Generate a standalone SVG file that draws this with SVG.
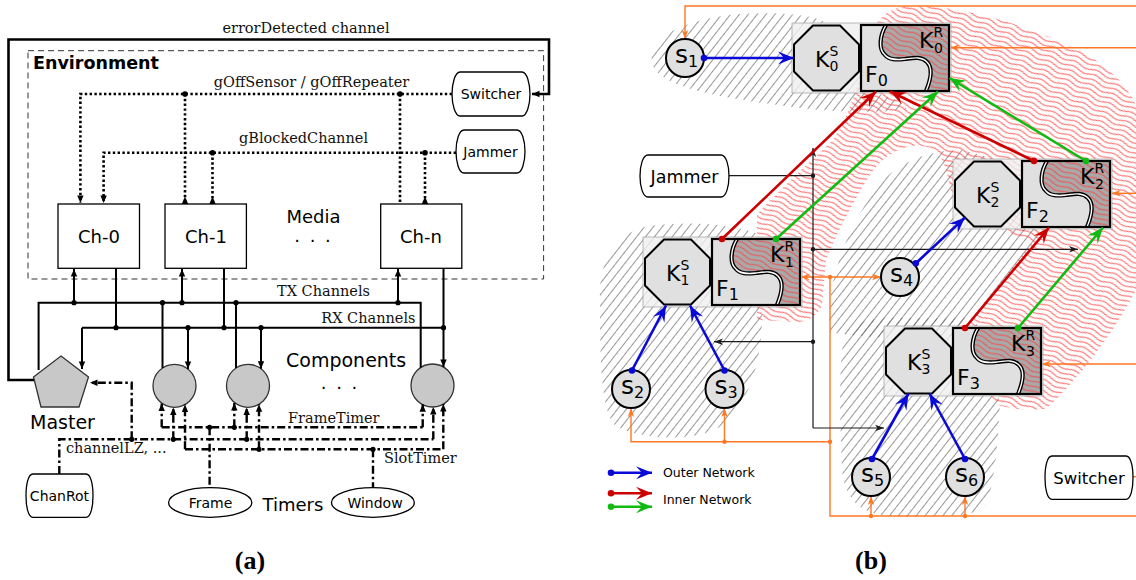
<svg xmlns="http://www.w3.org/2000/svg" width="1136" height="580" viewBox="0 0 1136 580">
<style>
  .sans{font-family:"DejaVu Sans","Liberation Sans",sans-serif;fill:#000}
  .lbl{font-family:"DejaVu Serif","Liberation Serif",serif;font-size:14.5px;fill:#111}
  .cap{font-family:"Liberation Serif","Times New Roman",serif;font-weight:bold;font-size:26px;text-anchor:middle}
  .thick{fill:none;stroke:#000;stroke-width:2.6}
  .bus{fill:none;stroke:#000;stroke-width:2}
  .dotl{fill:none;stroke:#000;stroke-width:2.6;stroke-dasharray:2.4 2.4}
  .dd{fill:none;stroke:#000;stroke-width:2.4;stroke-dasharray:8 3 2.5 3}
  .env{fill:none;stroke:#333;stroke-width:1;stroke-dasharray:6 4}
  .box{fill:#fff;stroke:#000;stroke-width:1.3}
  .comp{fill:#c8c8c8;stroke:#333;stroke-width:1.3}
  .mid{text-anchor:middle}
  .kbg{fill:#efefef;fill-opacity:.8;stroke:#a8a8a8;stroke-width:.8}
  .oct{fill:#e0e0e0;stroke:#000;stroke-width:2}
  .fl{fill:#e0e0e0;stroke:none}
  .fd{fill:#a9a9a9;stroke:none}
  .fdh{fill:url(#hatchRed);stroke:none}
  .wv1{fill:none;stroke:#000;stroke-width:4.2}
  .wv2{fill:none;stroke:#fff;stroke-width:1.4}
  .fb{fill:none;stroke:#000;stroke-width:2.2}
  .big{font-family:"DejaVu Sans","Liberation Sans",sans-serif;font-size:22px}
  .ss{font-size:14px}
  .sn{fill:#e0e0e0;stroke:#000;stroke-width:2}
  .st{font-family:"DejaVu Sans","Liberation Sans",sans-serif;font-size:25px}
  .sd{font-size:16px}
  .blue{fill:none;stroke:#0a0ad8;stroke-width:2.6}
  .red{fill:none;stroke:#cc0000;stroke-width:2.6}
  .green{fill:none;stroke:#11bb11;stroke-width:2.6}
  .org{fill:none;stroke:#ff7722;stroke-width:1.4}
  .blk{fill:none;stroke:#1a1a1a;stroke-width:1.2}
</style>
<defs>
  <marker id="ah" viewBox="-8 -4 9 8" markerWidth="9" markerHeight="8" refX="0" refY="0" orient="auto" markerUnits="userSpaceOnUse">
    <path d="M0,0 L-7.5,-3.2 L-7.5,3.2 Z" fill="#000"/>
  </marker>
  <marker id="ahk" viewBox="-10 -4 11 8" markerWidth="11" markerHeight="8" refX="0" refY="0" orient="auto" markerUnits="userSpaceOnUse">
    <path d="M0,0 L-9,-3.2 L-6.5,0 L-9,3.2 Z" fill="#1a1a1a"/>
  </marker>
  <marker id="aho" viewBox="-10 -4 11 8" markerWidth="11" markerHeight="8" refX="0" refY="0" orient="auto" markerUnits="userSpaceOnUse">
    <path d="M0,0 L-9,-3.2 L-6.5,0 L-9,3.2 Z" fill="#ff7722"/>
  </marker>
  <marker id="ahb" viewBox="-18 -8 19 16" markerWidth="19" markerHeight="16" refX="0" refY="0" orient="auto" markerUnits="userSpaceOnUse">
    <path d="M0,0 L-16,-6.5 L-10,0 L-16,6.5 Z" fill="#0a0ad8"/>
  </marker>
  <marker id="ahr" viewBox="-18 -8 19 16" markerWidth="19" markerHeight="16" refX="0" refY="0" orient="auto" markerUnits="userSpaceOnUse">
    <path d="M0,0 L-16,-6.5 L-10,0 L-16,6.5 Z" fill="#cc0000"/>
  </marker>
  <marker id="ahg" viewBox="-18 -8 19 16" markerWidth="19" markerHeight="16" refX="0" refY="0" orient="auto" markerUnits="userSpaceOnUse">
    <path d="M0,0 L-16,-6.5 L-10,0 L-16,6.5 Z" fill="#11bb11"/>
  </marker>
  <marker id="db" viewBox="-4 -4 8 8" markerWidth="8" markerHeight="8" refX="0" refY="0" markerUnits="userSpaceOnUse"><circle r="3.3" fill="#0a0ad8"/></marker>
  <marker id="dr" viewBox="-4 -4 8 8" markerWidth="8" markerHeight="8" refX="0" refY="0" markerUnits="userSpaceOnUse"><circle r="3.3" fill="#cc0000"/></marker>
  <marker id="dg" viewBox="-4 -4 8 8" markerWidth="8" markerHeight="8" refX="0" refY="0" markerUnits="userSpaceOnUse"><circle r="3.3" fill="#11bb11"/></marker>
  <pattern id="hatchGray" patternUnits="userSpaceOnUse" width="7" height="20" patternTransform="rotate(38)">
    <line x1="3.5" y1="0" x2="3.5" y2="20" stroke="#6a6a6a" stroke-width="0.7"/>
  </pattern>
  <pattern id="hatchRed" patternUnits="userSpaceOnUse" width="24" height="5" patternTransform="rotate(23)">
    <path d="M0,2.5 C6,0.7 6,0.7 12,2.5 C18,4.3 18,4.3 24,2.5" fill="none" stroke="#ff3d3d" stroke-width="0.9"/>
  </pattern>
  <path id="wave" d="M25,0 C19,10 17,24 24,30 C28,35 35,35 44,34 C52,33 60,31 66,37 C72,43 70,54 65,66"/>
  <path id="dark" d="M25,0 C19,10 17,24 24,30 C28,35 35,35 44,34 C52,33 60,31 66,37 C72,43 70,54 65,66 H88 V0 Z"/>
</defs>

<rect width="1136" height="580" fill="#fff"/>

<!-- ===== (a) system architecture ===== -->
<g id="a-environment">
  <rect class="env" x="28" y="50.7" width="515.6" height="228.3"/>
  <text x="33" y="69" class="sans" font-weight="bold" font-size="17.5">Environment</text>
  <text x="313.5" y="223" class="sans mid" font-size="18">Media</text>
  <text x="313.5" y="242" class="sans mid" font-size="18" letter-spacing="2">. . .</text>
</g>

<g id="a-switcher">
  <path class="box" d="M460,72 H522 C527,72 530,84 530,94 C530,104 527,116 522,116 H460 C455,116 452,104 452,94 C452,84 455,72 460,72 Z"/>
  <text x="491" y="99" class="sans mid" font-size="14">Switcher</text>
</g>
<g id="a-jammer">
  <path class="box" d="M464,130 H517 C522,130 525,141 525,151.5 C525,162 522,173 517,173 H464 C459,173 456,162 456,151.5 C456,141 459,130 464,130 Z"/>
  <text x="490.5" y="157" class="sans mid" font-size="14">Jammer</text>
</g>
<g id="a-ch0">
  <rect class="box" x="58" y="204" width="81.5" height="64.3"/>
  <text x="99" y="243" class="sans mid" font-size="18">Ch-0</text>
</g>
<g id="a-ch1">
  <rect class="box" x="165" y="204" width="81.4" height="64.3"/>
  <text x="206" y="243" class="sans mid" font-size="18">Ch-1</text>
</g>
<g id="a-chn">
  <rect class="box" x="380.7" y="204" width="81.1" height="64.3"/>
  <text x="421" y="243" class="sans mid" font-size="18">Ch-n</text>
</g>
<g id="a-master">
  <polygon class="comp" points="61,356 88.5,377 79,407 41,407 33.5,377"/>
  <text x="30" y="429" class="sans" font-size="19">Master</text>
</g>
<g id="a-components">
  <circle class="comp" cx="174.5" cy="385.8" r="21.5"/>
  <circle class="comp" cx="248" cy="385.8" r="21.5"/>
  <circle class="comp" cx="432.5" cy="385.5" r="21.5"/>
  <text x="286" y="366.7" class="sans" font-size="19">Components</text>
  <text x="340" y="389" class="sans mid" font-size="18" letter-spacing="2">. . .</text>
</g>
<g id="a-chanrot">
  <path class="box" d="M33,474 H86 C91,474 93,485 93,495.7 C93,506 91,517.3 86,517.3 H33 C28,517.3 26,506 26,495.7 C26,485 28,474 33,474 Z"/>
  <text x="59.5" y="501" class="sans mid" font-size="14">ChanRot</text>
</g>
<g id="a-timers">
  <ellipse class="box" cx="210.2" cy="502.5" rx="41.6" ry="14.8"/>
  <text x="210.5" y="508.3" class="sans mid" font-size="14">Frame</text>
  <ellipse class="box" cx="372.9" cy="502.5" rx="41.4" ry="14.8"/>
  <text x="375" y="508.3" class="sans mid" font-size="14">Window</text>
  <text x="262.5" y="511" class="sans" font-size="18">Timers</text>
</g>

<g id="a-connectors">
  <!-- errorDetected channel -->
  <path class="thick" d="M34,380 H8.5 V39.5 H549 V94 H532" marker-end="url(#ah)"/>
  <text x="306" y="33" class="lbl mid">errorDetected channel</text>

  <!-- gOffSensor / gOffRepeater -->
  <path class="dotl" d="M452,94 H80.4 V203" marker-end="url(#ah)"/>
  <path class="dotl" d="M185,94 V204"/>
  <path class="dotl" d="M400,94 V204"/>
  <text x="311.5" y="87" class="lbl mid">gOffSensor / gOffRepeater</text>

  <!-- gBlockedChannel -->
  <path class="dotl" d="M456,152.7 H103.6 V203" marker-end="url(#ah)"/>
  <path class="dotl" d="M212.5,152.7 V204"/>
  <path class="dotl" d="M425,152.7 V204"/>
  <text x="303.5" y="143" class="lbl mid">gBlockedChannel</text>
  <g fill="#000">
    <polygon points="185,196.5 181.8,204 188.2,204"/>
    <polygon points="212.5,196.5 209.3,204 215.7,204"/>
    <polygon points="425,196.5 421.8,204 428.2,204"/>
    <circle cx="185" cy="94" r="2.8"/>
    <circle cx="400" cy="94" r="2.8"/>
    <circle cx="212.5" cy="152.7" r="2.8"/>
    <circle cx="425" cy="152.7" r="2.8"/>
  </g>

  <!-- TX channels -->
  <path class="bus" d="M38.6,370 V302.7 H420.7 V367.6"/>
  <path class="bus" d="M74,302.7 V269" marker-end="url(#ah)"/>
  <path class="bus" d="M182,302.7 V269" marker-end="url(#ah)"/>
  <path class="bus" d="M398,302.7 V269" marker-end="url(#ah)"/>
  <path class="bus" d="M162.5,368 V302.7"/>
  <path class="bus" d="M236,368 V302.7"/>
  <text x="277" y="296" class="lbl">TX Channels</text>

  <!-- RX channels -->
  <path class="bus" d="M82,327.7 H443.5"/>
  <path class="bus" d="M82,327.7 V369" marker-end="url(#ah)"/>
  <path class="bus" d="M116,268.3 V327.7"/>
  <path class="bus" d="M224,268.3 V327.7"/>
  <path class="bus" d="M443.5,268.3 V367" marker-end="url(#ah)"/>
  <path class="bus" d="M188,327.7 V369" marker-end="url(#ah)"/>
  <path class="bus" d="M261,327.7 V368.7" marker-end="url(#ah)"/>
  <text x="415.5" y="323.3" class="lbl" text-anchor="end">RX Channels</text>
  <g fill="#000">
    <circle cx="74" cy="302.7" r="2.6"/><circle cx="162.5" cy="302.7" r="2.6"/>
    <circle cx="182" cy="302.7" r="2.6"/><circle cx="236" cy="302.7" r="2.6"/>
    <circle cx="398" cy="302.7" r="2.6"/>
    <circle cx="116" cy="327.7" r="2.6"/><circle cx="188" cy="327.7" r="2.6"/>
    <circle cx="224" cy="327.7" r="2.6"/><circle cx="261" cy="327.7" r="2.6"/>
    <circle cx="443.5" cy="327.7" r="2.6"/>
  </g>

  <!-- FrameTimer -->
  <path class="dd" d="M161.7,427.3 H422.7"/>
  <path class="dd" d="M161.7,427.3 V403.5" marker-end="url(#ah)"/>
  <path class="dd" d="M234.3,427.3 V403" marker-end="url(#ah)"/>
  <path class="dd" d="M422.7,427.3 V404.3" marker-end="url(#ah)"/>
  <path class="dd" d="M209.6,427.3 V487.7"/>
  <text x="288" y="422.7" class="lbl">FrameTimer</text>

  <!-- channelLZ -->
  <path class="dd" d="M59.3,474 V439.3 H433.3"/>
  <path class="dd" d="M433.3,439.3 V407" marker-end="url(#ah)"/>
  <path class="dd" d="M173.3,439.3 V407.5" marker-end="url(#ah)"/>
  <path class="dd" d="M246.7,439.3 V407.5" marker-end="url(#ah)"/>
  <path class="dd" d="M131.7,439.3 V382.7 H90" marker-end="url(#ah)"/>
  <text x="66" y="453.3" class="lbl">channelLZ, ...</text>

  <!-- SlotTimer -->
  <path class="dd" d="M185,449.3 H443.3"/>
  <path class="dd" d="M185,449.3 V404.6" marker-end="url(#ah)"/>
  <path class="dd" d="M259,449.3 V404.3" marker-end="url(#ah)"/>
  <path class="dd" d="M443.3,449.3 V404" marker-end="url(#ah)"/>
  <path class="dd" d="M373,449.3 V487.7"/>
  <text x="384" y="463.3" class="lbl">SlotTimer</text>
  <g fill="#000">
    <circle cx="209.6" cy="427.3" r="2.6"/><circle cx="234.3" cy="427.3" r="2.6"/>
    <circle cx="131.7" cy="439.3" r="2.6"/><circle cx="173.3" cy="439.3" r="2.6"/>
    <circle cx="246.7" cy="439.3" r="2.6"/>
    <circle cx="259" cy="449.3" r="2.6"/><circle cx="373" cy="449.3" r="2.6"/>
  </g>
</g>
<text x="250" y="569" class="cap">(a)</text>

<!-- ===== (b) network layout ===== -->
<g id="b-regions">
  <path fill="url(#hatchGray)" d="M652,62 C648,36 688,18 740,14 C775,12 805,14 822,20 L880,94 C892,99 906,102 906,109 C880,114 825,112 785,106 C725,98 656,88 652,62 Z"/>
  <path fill="url(#hatchGray)" d="M600,300 C598,262 615,232 650,226 C690,221 735,224 758,234 L762,318 C762,362 748,408 718,428 C692,442 640,440 616,426 C600,412 600,350 600,300 Z"/>
  <path fill="url(#hatchGray)" d="M830,332 C826,290 840,245 868,200 C888,165 925,150 962,150 L1000,160 L1040,238 L958,335 C930,340 880,340 830,332 Z"/>
  <path fill="url(#hatchGray)" d="M842,470 C840,420 838,360 845,335 C852,322 870,318 890,318 L975,318 L1000,402 C998,445 994,485 986,505 C978,516 950,517 905,517 C865,517 846,505 842,470 Z"/>
  <path fill="url(#hatchRed)" d="M757,320 L757,214 C778,192 805,166 833,140 C850,115 860,80 866,48 C872,22 886,8 908,6 C965,4 1035,28 1082,52 C1112,68 1130,90 1136,106 L1136,290 C1114,332 1080,378 1046,409 C1030,411 1008,409 996,404 C985,385 970,355 958,335 L1032,243 C1010,232 975,222 955,205 C948,185 948,162 935,150 C915,140 890,148 872,172 C855,198 838,230 826,260 L822,305 C818,315 810,320 800,322 Z"/>
</g>

<g id="b-feeds">
  <path class="org" d="M1136,6 H685 V39" marker-end="url(#aho)"/>
  <path class="org" d="M1136,47.7 H950" marker-end="url(#aho)"/>
  <path class="org" d="M1136,193.3 H1111.5" marker-end="url(#aho)"/>
  <path class="org" d="M1136,364 H1041.5" marker-end="url(#aho)"/>
  <path class="org" d="M1133,476.7 H1136"/>
  <path class="org" d="M1136,516 H830 V277 H800.5" marker-end="url(#aho)"/>
  <path class="org" d="M830,277 H881" marker-end="url(#aho)"/>
  <path class="org" d="M830,441.7 H631 V408" marker-end="url(#aho)"/>
  <path class="org" d="M724.5,441.7 V408" marker-end="url(#aho)"/>
  <path class="org" d="M871,516 V496" marker-end="url(#aho)"/>
  <path class="org" d="M965,516 V496" marker-end="url(#aho)"/>
  <g fill="#ff7722">
    <circle cx="830" cy="277" r="2.2"/><circle cx="830" cy="441.7" r="2.2"/>
    <circle cx="724.5" cy="441.7" r="2.2"/><circle cx="871" cy="516" r="2.2"/>
    <circle cx="965" cy="516" r="2.2"/>
  </g>
</g>

<g id="b-jam-links">
  <path class="blk" d="M729,175.7 H813"/>
  <path class="blk" d="M813,428 V148" marker-end="url(#ahk)"/>
  <path class="blk" d="M813,249.3 H1078" marker-end="url(#ahk)"/>
  <path class="blk" d="M813,341.7 H714" marker-end="url(#ahk)"/>
  <path class="blk" d="M813,428 H884" marker-end="url(#ahk)"/>
  <g fill="#1a1a1a">
    <circle cx="813" cy="175.7" r="2.2"/><circle cx="813" cy="249.3" r="2.2"/>
    <circle cx="813" cy="341.7" r="2.2"/>
  </g>
</g>

<g id="b-jammer">
  <path class="box" d="M648,155 H721 C726,155 729,165 729,176 C729,187 726,197 721,197 H648 C643,197 640,187 640,176 C640,165 643,155 648,155 Z"/>
  <text x="684.5" y="183" class="sans mid" font-size="17.5">Jammer</text>
</g>
<g id="b-switcher">
  <path class="box" d="M1052,456 H1126 C1131,456 1133,467 1133,477.7 C1133,488 1131,499.3 1126,499.3 H1052 C1047,499.3 1045,488 1045,477.7 C1045,467 1047,456 1052,456 Z"/>
  <text x="1089" y="484" class="sans mid" font-size="16.5">Switcher</text>
</g>

<g id="b-k0" transform="translate(861,25)">
  <rect class="kbg" x="-69" y="-2" width="159" height="70"/>
  <polygon class="oct" points="-48,0.5 -21,0.5 -2,19.5 -2,46.5 -21,65.5 -48,65.5 -67,46.5 -67,19.5"/>
  <rect class="fl" width="88" height="66"/>
  <use href="#dark" class="fd"/><use href="#dark" class="fdh"/>
  <use href="#wave" class="wv1"/><use href="#wave" class="wv2"/>
  <rect class="fb" width="88" height="66"/>
  <text x="-46" y="42" class="big">K<tspan class="ss" dy="-11">S</tspan><tspan class="ss" x="-31.5" dy="15">0</tspan></text>
  <text x="4" y="57" class="big">F<tspan class="sd" dy="4">0</tspan></text>
  <text x="58" y="23" class="big">K<tspan class="ss" dy="-11">R</tspan><tspan class="ss" x="73" dy="16">0</tspan></text>
</g>
<g id="b-k1" transform="translate(712,239)">
  <rect class="kbg" x="-69" y="-2" width="159" height="70"/>
  <polygon class="oct" points="-48,0.5 -21,0.5 -2,19.5 -2,46.5 -21,65.5 -48,65.5 -67,46.5 -67,19.5"/>
  <rect class="fl" width="88" height="66"/>
  <use href="#dark" class="fd"/><use href="#dark" class="fdh"/>
  <use href="#wave" class="wv1"/><use href="#wave" class="wv2"/>
  <rect class="fb" width="88" height="66"/>
  <text x="-46" y="42" class="big">K<tspan class="ss" dy="-11">S</tspan><tspan class="ss" x="-31.5" dy="15">1</tspan></text>
  <text x="4" y="57" class="big">F<tspan class="sd" dy="4">1</tspan></text>
  <text x="58" y="23" class="big">K<tspan class="ss" dy="-11">R</tspan><tspan class="ss" x="73" dy="16">1</tspan></text>
</g>
<g id="b-k2" transform="translate(1022,161)">
  <rect class="kbg" x="-69" y="-2" width="159" height="70"/>
  <polygon class="oct" points="-48,0.5 -21,0.5 -2,19.5 -2,46.5 -21,65.5 -48,65.5 -67,46.5 -67,19.5"/>
  <rect class="fl" width="88" height="66"/>
  <use href="#dark" class="fd"/><use href="#dark" class="fdh"/>
  <use href="#wave" class="wv1"/><use href="#wave" class="wv2"/>
  <rect class="fb" width="88" height="66"/>
  <text x="-46" y="42" class="big">K<tspan class="ss" dy="-11">S</tspan><tspan class="ss" x="-31.5" dy="15">2</tspan></text>
  <text x="4" y="57" class="big">F<tspan class="sd" dy="4">2</tspan></text>
  <text x="58" y="23" class="big">K<tspan class="ss" dy="-11">R</tspan><tspan class="ss" x="73" dy="16">2</tspan></text>
</g>
<g id="b-k3" transform="translate(953,328)">
  <rect class="kbg" x="-69" y="-2" width="159" height="70"/>
  <polygon class="oct" points="-48,0.5 -21,0.5 -2,19.5 -2,46.5 -21,65.5 -48,65.5 -67,46.5 -67,19.5"/>
  <rect class="fl" width="88" height="66"/>
  <use href="#dark" class="fd"/><use href="#dark" class="fdh"/>
  <use href="#wave" class="wv1"/><use href="#wave" class="wv2"/>
  <rect class="fb" width="88" height="66"/>
  <text x="-46" y="42" class="big">K<tspan class="ss" dy="-11">S</tspan><tspan class="ss" x="-31.5" dy="15">3</tspan></text>
  <text x="4" y="57" class="big">F<tspan class="sd" dy="4">3</tspan></text>
  <text x="58" y="23" class="big">K<tspan class="ss" dy="-11">R</tspan><tspan class="ss" x="73" dy="16">3</tspan></text>
</g>

<g id="b-s1"><circle class="sn" cx="685" cy="58" r="19"/><text x="675" y="63" class="st">s<tspan class="sd" dy="4">1</tspan></text></g>
<g id="b-s2"><circle class="sn" cx="631" cy="389" r="19"/><text x="621" y="394" class="st">s<tspan class="sd" dy="4">2</tspan></text></g>
<g id="b-s3"><circle class="sn" cx="724.5" cy="389" r="19"/><text x="714.5" y="394" class="st">s<tspan class="sd" dy="4">3</tspan></text></g>
<g id="b-s4"><circle class="sn" cx="900" cy="277" r="19"/><text x="890" y="282" class="st">s<tspan class="sd" dy="4">4</tspan></text></g>
<g id="b-s5"><circle class="sn" cx="871" cy="477" r="19"/><text x="861" y="482" class="st">s<tspan class="sd" dy="4">5</tspan></text></g>
<g id="b-s6"><circle class="sn" cx="965" cy="477" r="19"/><text x="955" y="482" class="st">s<tspan class="sd" dy="4">6</tspan></text></g>

<g id="b-links">
  <path class="blue" d="M704,58 H794" marker-start="url(#db)" marker-end="url(#ahb)"/>
  <path class="blue" d="M632,370.5 L666,305.5" marker-start="url(#db)" marker-end="url(#ahb)"/>
  <path class="blue" d="M724.5,370.5 L690,305.5" marker-start="url(#db)" marker-end="url(#ahb)"/>
  <path class="blue" d="M915.8,263.3 L965,217.5" marker-start="url(#db)" marker-end="url(#ahb)"/>
  <path class="blue" d="M872,459 L908.5,393.5" marker-start="url(#db)" marker-end="url(#ahb)"/>
  <path class="blue" d="M965,459 L929.5,393.5" marker-start="url(#db)" marker-end="url(#ahb)"/>

  <path class="red" d="M722,239 L876,91.5" marker-start="url(#dr)" marker-end="url(#ahr)"/>
  <path class="red" d="M1034,161 L890,91.5" marker-start="url(#dr)" marker-end="url(#ahr)"/>
  <path class="red" d="M965,328 L1049,227.5" marker-start="url(#dr)" marker-end="url(#ahr)"/>

  <path class="green" d="M776,239 L938,91.5" marker-start="url(#dg)" marker-end="url(#ahg)"/>
  <path class="green" d="M1086,161 L949.5,78" marker-start="url(#dg)" marker-end="url(#ahg)"/>
  <path class="green" d="M1018,328 L1103,227.5" marker-start="url(#dg)" marker-end="url(#ahg)"/>
</g>

<g id="b-legend">
  <path class="blue" d="M611,472.7 H652" marker-start="url(#db)" marker-end="url(#ahb)"/>
  <path class="red" d="M611,493.3 H652" marker-start="url(#dr)" marker-end="url(#ahr)"/>
  <path class="green" d="M611,506.7 H652" marker-start="url(#dg)" marker-end="url(#ahg)"/>
  <text x="663" y="476.7" class="sans" font-size="12.5" fill="#222">Outer Network</text>
  <text x="663" y="504" class="sans" font-size="12.5" fill="#222">Inner Network</text>
</g>
<text x="871" y="569" class="cap">(b)</text>
</svg>
